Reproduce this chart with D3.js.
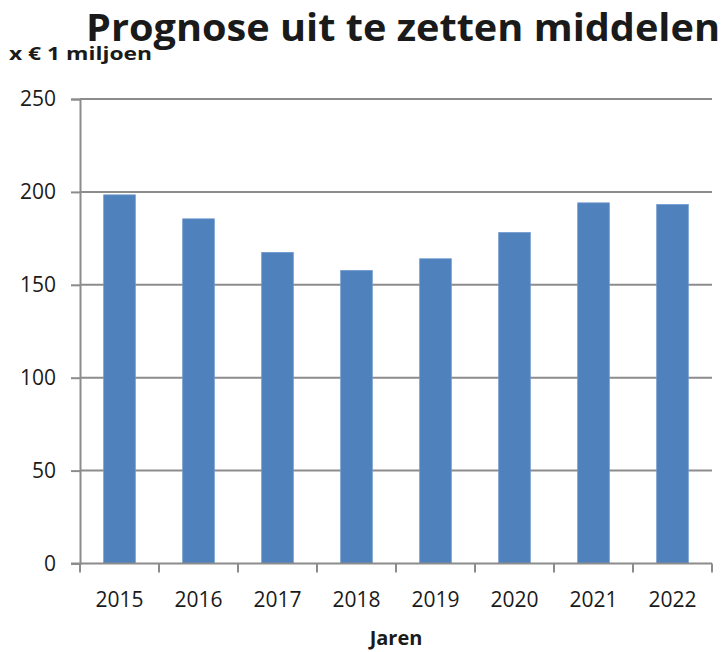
<!DOCTYPE html>
<html>
<head>
<meta charset="utf-8">
<script src="https://cdn.jsdelivr.net/npm/d3@7"></script>
<style>
  html, body { margin: 0; padding: 0; background: #fff; }
  svg { display: block; }
  text { font-family: "Open Sans", "DejaVu Sans", sans-serif; fill: #1a1a1a; }
</style>
</head>
<body>
<svg id="chart" width="726" height="652"></svg>
<script>
// Forecast of funds to be placed, per year (x € 1 million)
const years = ["2015", "2016", "2017", "2018", "2019", "2020", "2021", "2022"];
const amounts = [198.4, 185.5, 167.4, 157.7, 164, 178.1, 194.1, 193.2];
const yTicks = [0, 50, 100, 150, 200, 250];

const titleText = "Prognose uit te zetten middelen";
const unitText = "x € 1 miljoen";
const xTitle = "Jaren";

const svg = d3.select("#chart");
const plot = { left: 80, right: 712, top: 99, bottom: 563.5 };

const x = d3.scaleBand()
  .domain(years)
  .range([plot.left, plot.right])
  .paddingInner(0.6)
  .paddingOuter(0.3);

const y = d3.scaleLinear()
  .domain([0, 250])
  .range([plot.bottom, plot.top]);

const gridColor = "#8c8c8c";

// horizontal gridlines
svg.append("g")
  .selectAll("line")
  .data(yTicks.filter(d => d > 0))
  .join("line")
  .attr("x1", plot.left)
  .attr("x2", plot.right)
  .attr("y1", d => y(d))
  .attr("y2", d => y(d))
  .attr("stroke", gridColor)
  .attr("stroke-width", 2);

// bars
svg.append("g")
  .selectAll("rect")
  .data(years)
  .join("rect")
  .attr("x", d => x(d))
  .attr("width", x.bandwidth())
  .attr("y", (d, i) => y(amounts[i]))
  .attr("height", (d, i) => y(0) - y(amounts[i]))
  .attr("fill", "#4f81bd")
  .attr("stroke", "#6d97cc")
  .attr("stroke-width", 0.8);

// y axis
const yAxis = svg.append("g")
  .attr("transform", `translate(${plot.left},0)`)
  .call(d3.axisLeft(y).tickValues(yTicks).tickSize(9).tickPadding(15));
yAxis.select(".domain").attr("stroke", gridColor).attr("stroke-width", 2);
yAxis.selectAll(".tick line").attr("stroke", gridColor).attr("stroke-width", 2);
yAxis.selectAll(".tick text")
  .attr("font-size", 21)
  .attr("fill", "#1a1a1a")
  .style("font-family", "'Open Sans', sans-serif");

// x axis with ticks between categories
const xAxis = svg.append("g")
  .attr("transform", `translate(0,${plot.bottom})`);
xAxis.append("line")
  .attr("x1", plot.left - 9).attr("x2", plot.right)
  .attr("stroke", gridColor).attr("stroke-width", 2);
const boundaries = d3.range(years.length + 1).map(i => plot.left + i * (plot.right - plot.left) / years.length);
xAxis.selectAll("line.tick")
  .data(boundaries)
  .join("line")
  .attr("class", "tick")
  .attr("x1", d => d).attr("x2", d => d)
  .attr("y1", 0).attr("y2", 9)
  .attr("stroke", gridColor).attr("stroke-width", 2);
xAxis.selectAll("text")
  .data(years)
  .join("text")
  .attr("x", d => x(d) + x.bandwidth() / 2)
  .attr("y", 43)
  .attr("text-anchor", "middle")
  .attr("font-size", 21)
  .text(d => d);

// titles
svg.append("text")
  .attr("x", 86).attr("y", 41)
  .attr("font-size", 38)
  .attr("font-weight", "bold")
  .attr("textLength", 634)
  .attr("lengthAdjust", "spacingAndGlyphs")
  .text(titleText);

svg.append("text")
  .attr("x", 9).attr("y", 60)
  .attr("font-size", 17)
  .attr("font-weight", "bold")
  .attr("textLength", 143)
  .attr("lengthAdjust", "spacingAndGlyphs")
  .text(unitText);

svg.append("text")
  .attr("x", 396).attr("y", 645)
  .attr("text-anchor", "middle")
  .attr("font-size", 20)
  .attr("font-weight", "bold")
  .text(xTitle);
</script>
</body>
</html>
